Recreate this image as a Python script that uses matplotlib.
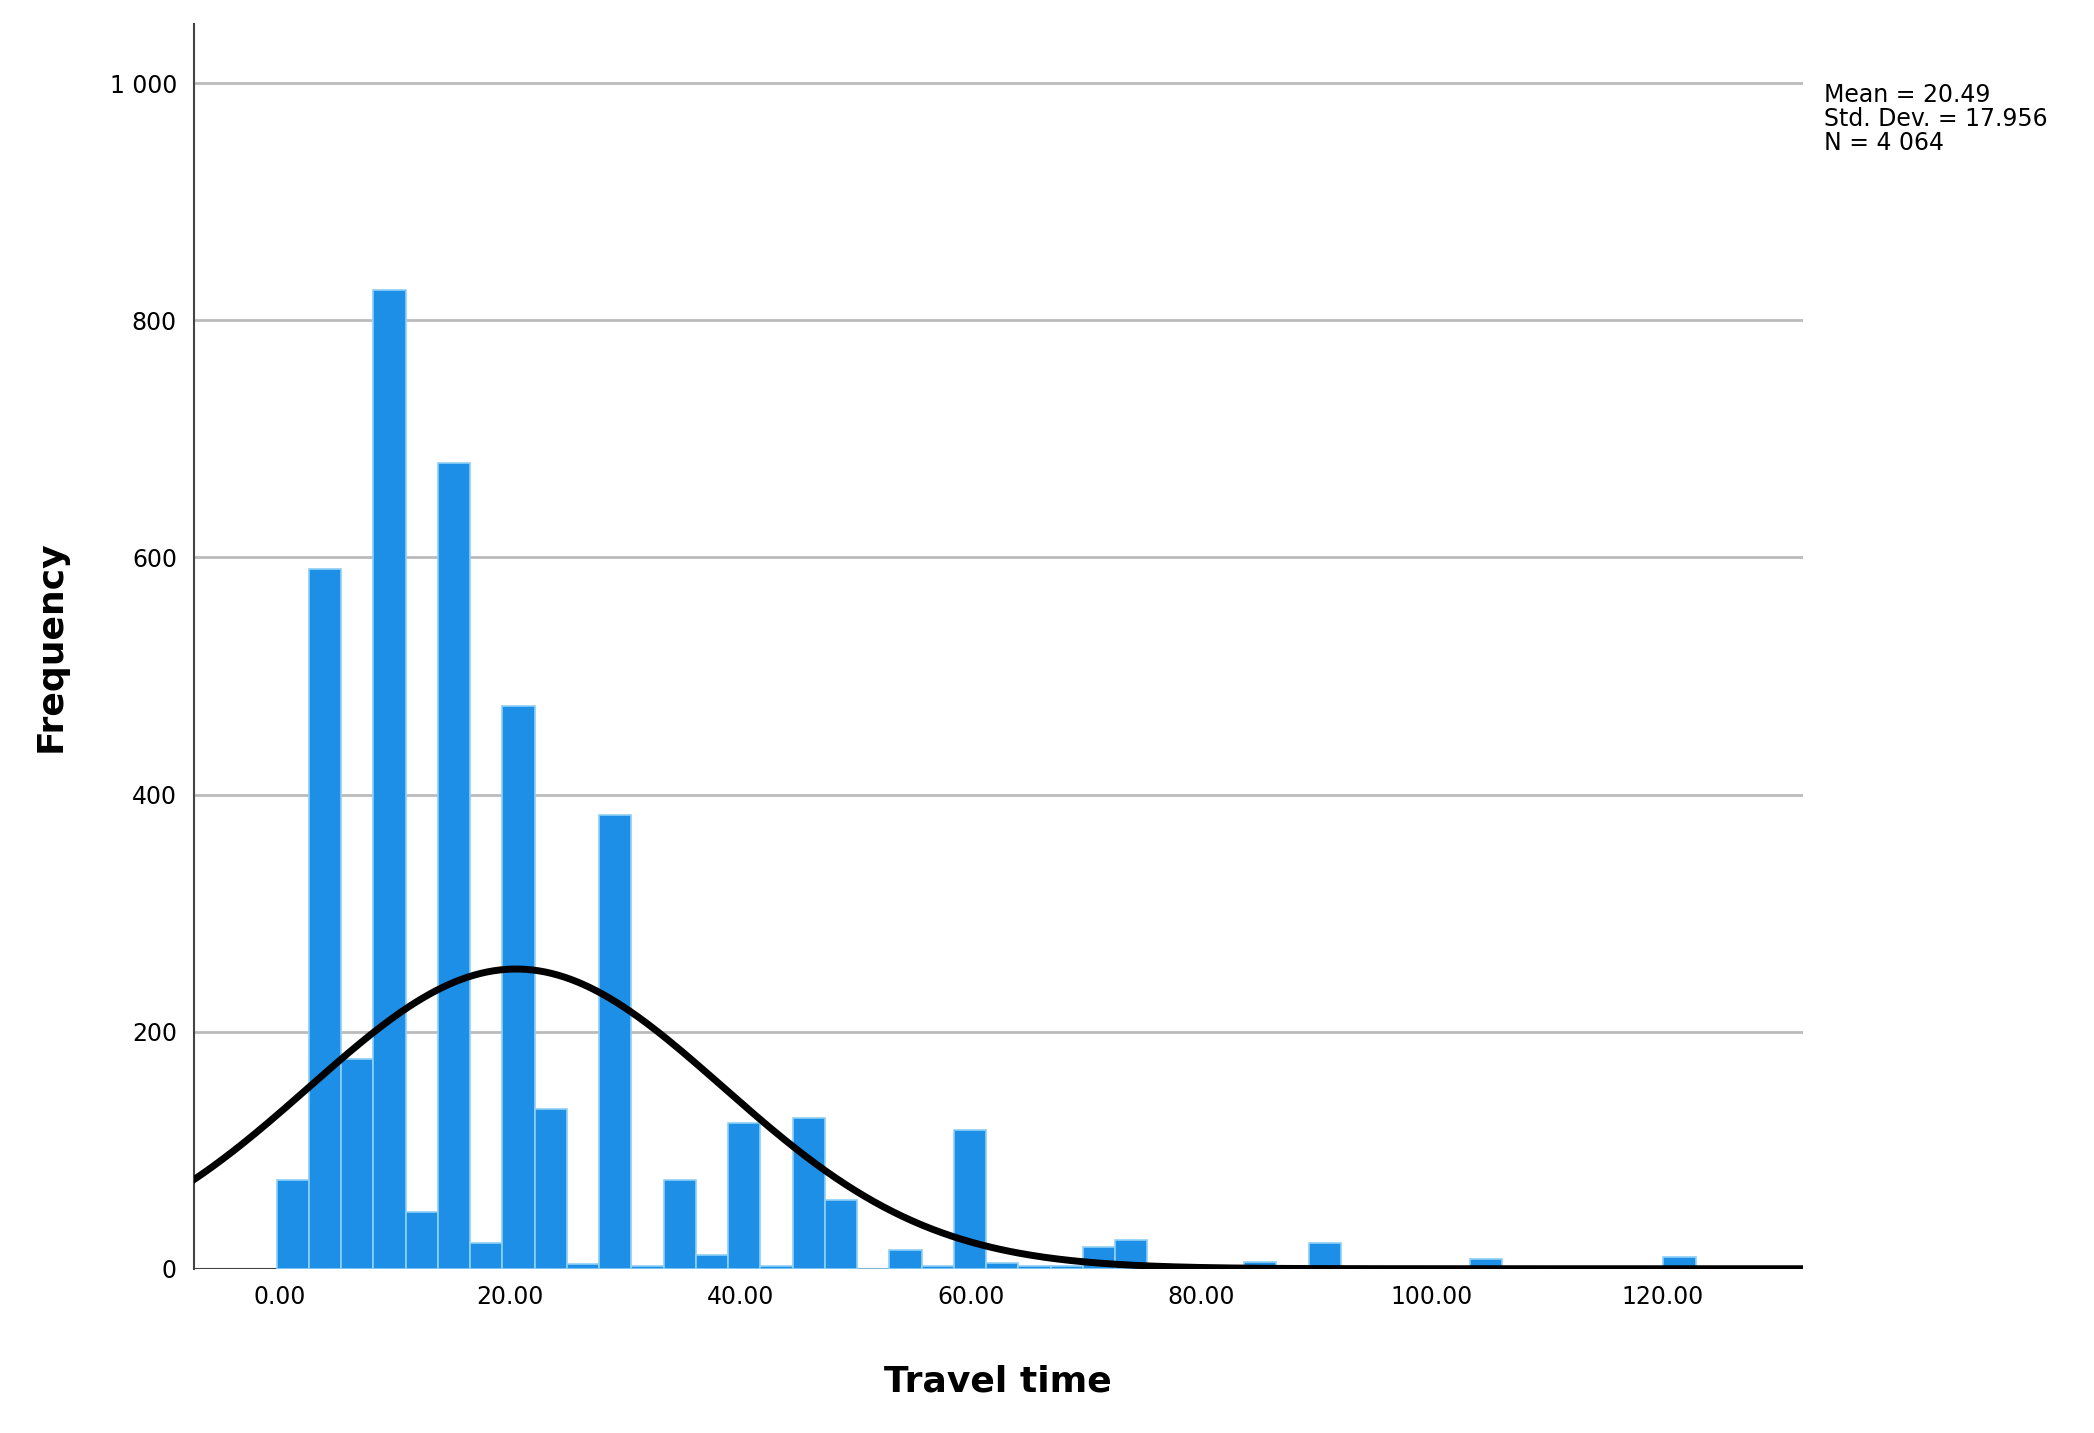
import numpy as np
import matplotlib.pyplot as plt

bin_start = -0.3
bin_width = 2.8
counts = [75, 590, 177, 826, 48, 680, 22, 475, 135, 4, 383, 2, 75, 12, 123, 2,
          127, 58, 0, 16, 2, 117, 5, 2, 2, 18, 24, 0, 0, 0, 6, 0, 22, 0, 0, 0,
          1, 8, 0, 0, 0, 0, 0, 10, 0]
mean, sd, n = 20.49, 17.956, 4064
xticks = [0, 20, 40, 60, 80, 100, 120]
yticks = [0, 200, 400, 600, 800, 1000]

fig = plt.figure(figsize=(20.94, 14.33), dpi=100)
ax = fig.add_axes([145/1568, 1-950/1073, (1350-145)/1568, (950-18)/1073])

edges = bin_start + bin_width*np.arange(len(counts))
ax.bar(edges, counts, width=bin_width, align='edge', color='#1E8FE6',
       edgecolor='#8FD0F5', linewidth=1.2, zorder=2)

xs = np.linspace(-7.5, 132.2, 500)
ys = n*bin_width/(sd*np.sqrt(2*np.pi))*np.exp(-0.5*((xs-mean)/sd)**2)
ax.plot(xs, ys, color='black', linewidth=5, zorder=3)

ax.set_xlim(-7.5, 132.2)
ax.set_ylim(0, 1050)
ax.set_xticks(xticks)
ax.set_xticklabels([f"{v:.2f}" for v in xticks], fontsize=17)
ax.set_yticks(yticks)
ax.set_yticklabels([f"{v:,}".replace(",", " ") for v in yticks], fontsize=17)
ax.tick_params(length=0, pad=12)
ax.grid(axis='y', color='#BBBBBB', linewidth=2, zorder=0)
ax.set_axisbelow(True)
for s in ['top', 'right', 'bottom']:
    ax.spines[s].set_visible(False)
ax.spines['left'].set_color('#444444')
ax.spines['left'].set_linewidth(1.5)
ax.axhline(0, color='#444444', linewidth=1.5, zorder=1)

ax.set_xlabel('Travel time', fontsize=26, fontweight='bold', labelpad=40)
ax.set_ylabel('Frequency', fontsize=26, fontweight='bold', labelpad=30)

fig.text(1366/1568, 1-62/1073, f"Mean = {mean}\nStd. Dev. = {sd}\nN = 4 064",
         fontsize=17, va='top', ha='left', linespacing=1.0)

fig.savefig('out.png', dpi=100, facecolor='white')
